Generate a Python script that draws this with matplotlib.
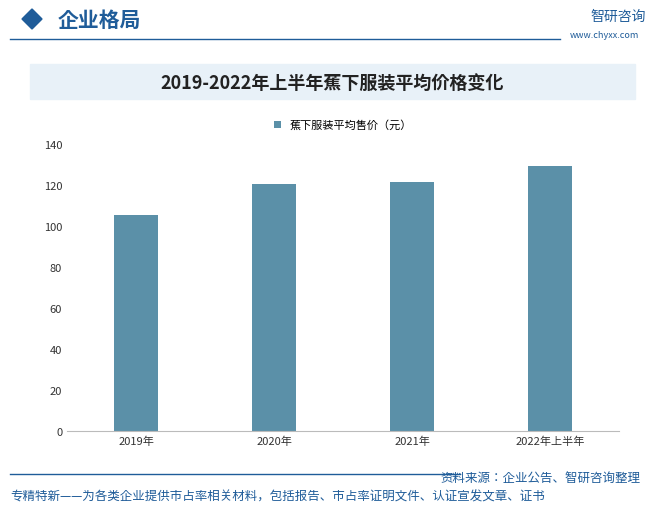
import matplotlib.pyplot as plt
from matplotlib import font_manager
from matplotlib.patches import Rectangle, Polygon

names = {f.name for f in font_manager.fontManager.ttflist}
cjk = [n for n in ['Noto Sans CJK SC', 'Noto Sans CJK JP', 'Noto Sans CJK TC', 'Noto Sans CJK KR'] if n in names]
plt.rcParams['font.family'] = 'sans-serif'
plt.rcParams['font.sans-serif'] = cjk + ['DejaVu Sans']

years = ['2019年', '2020年', '2021年', '2022年上半年']
prices = [105.5, 120.5, 121.5, 129.5]
bar_color = '#5b90a8'

W, H = 665, 510
fig = plt.figure(figsize=(6.65, 5.10), dpi=100)

def fx(x): return x / W
def fy(y): return 1 - y / H

# header
fig.patches.append(Polygon([[fx(22), fy(20)], [fx(32), fy(10)], [fx(42), fy(20)], [fx(32), fy(30)]],
                           closed=True, color='#1f5c99', transform=fig.transFigure))
fig.text(fx(58), fy(20), '企业格局', fontsize=15, color='#1f5c99', va='center', fontweight='bold')
fig.lines.append(plt.Line2D([fx(10), fx(560)], [fy(40), fy(40)], color='#1f5c99', lw=1, transform=fig.transFigure))
fig.text(fx(590), fy(17), '智研咨询', fontsize=10, color='#1f5c99', va='center')
fig.text(fx(570), fy(36), 'www.chyxx.com', fontsize=6.5, color='#1f5c99', va='center')

# title band
fig.patches.append(Rectangle((fx(30), fy(100)), fx(605), 35 / H, color='#e8f1f8', transform=fig.transFigure))
fig.text(0.5, fy(83), '2019-2022年上半年蕉下服装平均价格变化', fontsize=13, fontweight='bold',
         ha='center', va='center', color='#222222')

ax = fig.add_axes([fx(67), fy(432), fx(552), (432 - 145) / H])
ax.bar(range(len(years)), prices, width=0.32, color=bar_color, label='蕉下服装平均售价（元）')
ax.set_xlim(-0.5, len(years) - 0.5)
ax.set_ylim(0, 140)
ax.set_yticks(range(0, 141, 20))
ax.set_xticks(range(len(years)))
ax.set_xticklabels(years)
ax.tick_params(labelsize=8, length=0, colors='#333333')
for s in ['top', 'right', 'left']:
    ax.spines[s].set_visible(False)
ax.spines['bottom'].set_color('#bbbbbb')
ax.legend(loc='upper center', bbox_to_anchor=(0.5, 1.12), frameon=False, fontsize=8,
          handlelength=0.6, handleheight=0.6)

# footer
fig.lines.append(plt.Line2D([fx(10), fx(460)], [fy(475), fy(475)], color='#1f5c99', lw=1, transform=fig.transFigure))
fig.text(fx(440), fy(478), '资料来源：企业公告、智研咨询整理', fontsize=9, color='#1f5c99', va='center')
fig.text(fx(10), fy(497), '专精特新——为各类企业提供市占率相关材料，包括报告、市占率证明文件、认证宣发文章、证书',
         fontsize=9, color='#1f5c99', va='center')

fig.savefig('out.png', dpi=100)
